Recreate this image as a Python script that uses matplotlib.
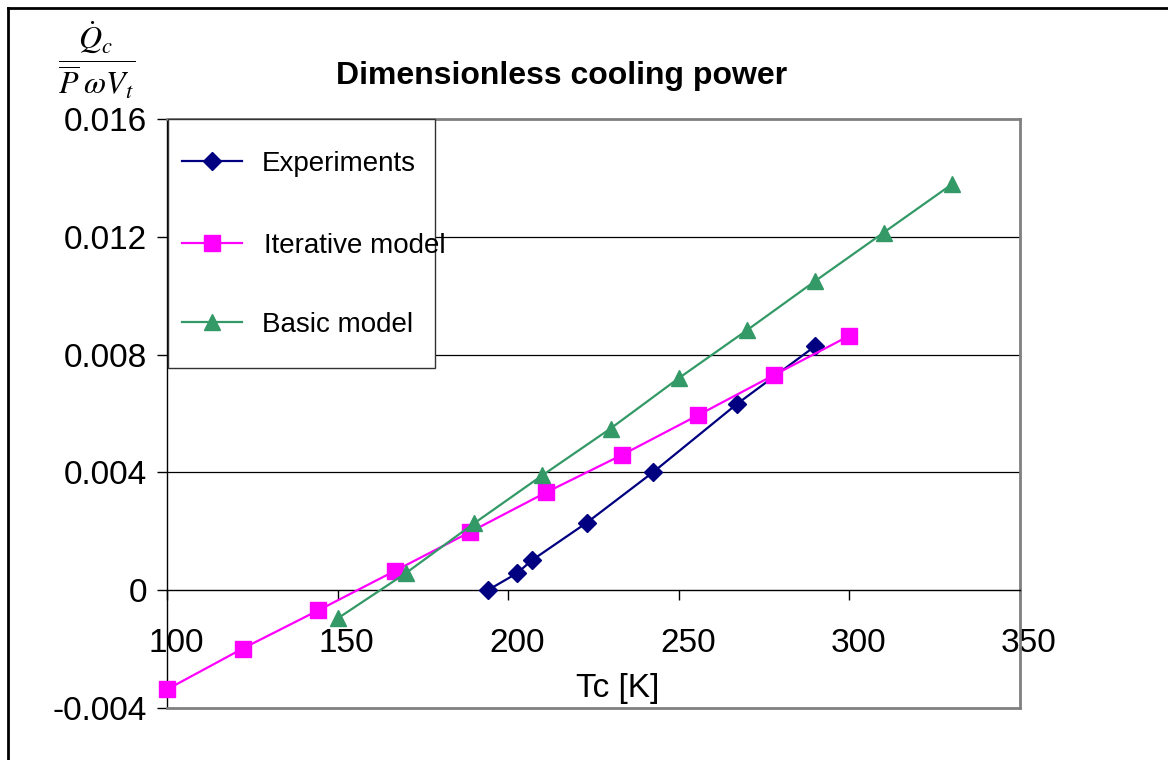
import matplotlib
matplotlib.use('Agg')
import matplotlib.pyplot as plt
import matplotlib.patches as patches
import matplotlib.transforms as mtransforms
from matplotlib.lines import Line2D
from matplotlib import rcParams

rcParams['font.family'] = ['Liberation Sans', 'DejaVu Sans']
rcParams['mathtext.fontset'] = 'stix'

# --- data ---
exp_T = [194, 202.5, 207, 223, 242.5, 267, 290]
exp_Q = [0.0000, 0.00057, 0.00102, 0.00229, 0.00401, 0.00632, 0.00829]

iter_T = [100, 122.2, 144.4, 166.7, 188.9, 211.1, 233.3, 255.6, 277.8, 300]
iter_Q = [-0.00337, -0.00198, -0.00068, 0.00065, 0.00198, 0.00332, 0.00459, 0.00594, 0.0073, 0.00864]

basic_T = [150, 170, 190, 210, 230, 250, 270, 290, 310, 330]
basic_Q = [-0.00096, 0.00058, 0.00227, 0.0039, 0.00549, 0.0072, 0.00883, 0.0105, 0.01214, 0.01378]

x_ticks = [100, 150, 200, 250, 300, 350]
y_ticks = [-0.004, 0, 0.004, 0.008, 0.012, 0.016]
y_labels = ['-0.004', '0', '0.004', '0.008', '0.012', '0.016']

series = [
    ('Experiments', exp_T, exp_Q, '#000080', 'D', 9.0),
    ('Iterative model', iter_T, iter_Q, '#FF00FF', 's', 11.5),
    ('Basic model', basic_T, basic_Q, '#339966', '^', 12.0),
]

W, H = 1168, 760
fig = plt.figure(figsize=(W / 100, H / 100), dpi=100)
ax = fig.add_axes([167 / W, 1 - 708 / H, (1020 - 167) / W, (708 - 119) / H])
ax.set_xlim(100, 350)
ax.set_ylim(-0.004, 0.016)

# frame: Excel-style plot area
ax.spines['left'].set_color('black')
ax.spines['left'].set_linewidth(1.0)
ax.spines['bottom'].set_position(('data', 0))
ax.spines['bottom'].set_color('black')
ax.spines['bottom'].set_linewidth(1.0)
for s in ['top', 'right']:
    ax.spines[s].set_color('#808080')
    ax.spines[s].set_linewidth(2.0)
ax.axhline(-0.004, color='#808080', lw=2.0, clip_on=False, zorder=3)

for yv in [0.004, 0.008, 0.012]:
    ax.axhline(yv, color='black', lw=0.9, zorder=1)

ax.set_xticks(x_ticks)
ax.set_xticklabels([str(v) for v in x_ticks])
ax.set_yticks(y_ticks)
ax.set_yticklabels(y_labels)
ax.tick_params(axis='both', direction='out', length=7.2, width=1.0, color='black',
               labelsize=24)
ax.tick_params(axis='x', pad=20)
ax.tick_params(axis='y', pad=7)

# Excel puts the x labels slightly right of the ticks
shift = mtransforms.ScaledTranslation(9 / 100, 0, fig.dpi_scale_trans)
for lab in ax.get_xticklabels():
    lab.set_transform(lab.get_transform() + shift)

for name, xs, ys, col, mk, ms in series:
    ax.plot(xs, ys, color=col, lw=1.6, marker=mk, markersize=ms,
            markeredgecolor=col, markerfacecolor=col, clip_on=False, zorder=4)

# legend drawn by hand so the text can spill over the box like the original
def ax_x(px):
    return (px - 167) / 853

def ax_y(py):
    return (708 - py) / 589

box = patches.Rectangle((ax_x(168), ax_y(368)), ax_x(435) - ax_x(168), ax_y(119) - ax_y(368),
                        transform=ax.transAxes, facecolor='white', edgecolor='#333333',
                        lw=1.0, zorder=5, clip_on=False)
ax.add_patch(box)
leg_y = [161, 243, 322]
leg_tx = [262, 264, 262]
for (name, xs, ys, col, mk, ms), py, tx in zip(series, leg_y, leg_tx):
    ax.add_line(Line2D([ax_x(182), ax_x(242)], [ax_y(py)] * 2, transform=ax.transAxes,
                       color=col, lw=1.6, zorder=6, clip_on=False))
    ax.add_line(Line2D([ax_x(212)], [ax_y(py)], transform=ax.transAxes, marker=mk,
                       markersize=ms, color=col, zorder=6, clip_on=False))
    ax.text(ax_x(tx), ax_y(py + 3), name, transform=ax.transAxes, fontsize=20,
            ha='left', va='center', zorder=7)

# titles and axis labels
fig.text(562 / W, 1 - 76 / H, 'Dimensionless cooling power', fontsize=23,
         fontweight='bold', ha='center', va='center')
ax.text(232, -0.00335, 'Tc [K]', fontsize=24, ha='center', va='center', zorder=3)
fig.text(97 / W, 1 - 60 / H, r'$\dfrac{\dot{Q}_c}{\overline{P}\;\omega V_t}$',
         fontsize=23, ha='center', va='center')

# outer border (top and left only visible)
fig.add_artist(Line2D([8 / W, 1], [1 - 8 / H] * 2, transform=fig.transFigure,
                      color='black', lw=2))
fig.add_artist(Line2D([8 / W] * 2, [0, 1 - 8 / H], transform=fig.transFigure,
                      color='black', lw=2))

fig.savefig('out.png', dpi=100)
